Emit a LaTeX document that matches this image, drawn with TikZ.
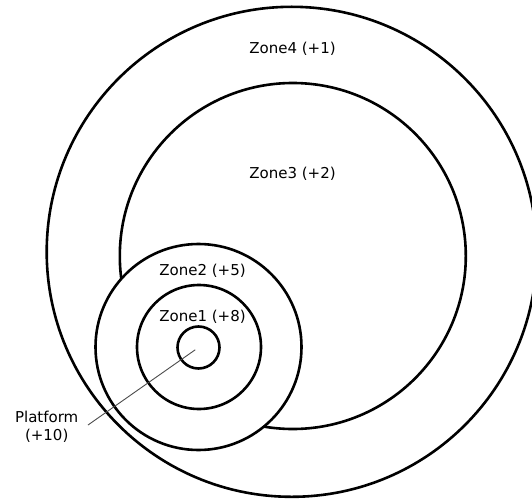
\documentclass[tikz,border=0pt]{standalone}
\usepackage{fontspec}
\setmainfont{DejaVu Sans}
\begin{document}
\begin{tikzpicture}[x=1pt,y=-1pt,
  ring/.style={circle,draw=black,line width=2.6pt,inner sep=0pt,outer sep=0pt},
  lbl/.style={font=\fontsize{15}{17}\selectfont,inner sep=0pt,align=center},
  leader/.style={draw=black!70,line width=0.9pt}]
  \useasboundingbox (0,0) rectangle (532,500);
  \clip (0,0) rectangle (532,500);
  % zones, drawn from the outside in
  \node[ring,minimum size=490pt] (z4) at (291.7,251.8) {};
  \node[ring,minimum size=346pt] (z3) at (292.8,256) {};
  \node[ring,fill=white,minimum size=206pt] (z2) at (198.5,347) {};
  \node[ring,minimum size=124pt] (z1) at (199,347) {};
  \node[ring,minimum size=42pt] (plat) at (198.5,347.5) {};
  % zone labels
  \node[lbl] (t4) at (292.5,49) {Zone4 (+1)};
  \node[lbl] (t3) at (292.5,173.5) {Zone3 (+2)};
  \node[lbl] (t2) at (202.5,270.5) {Zone2 (+5)};
  \node[lbl] (t1) at (202.5,317) {Zone1 (+8)};
  \node[lbl] (tp) at (46.7,427) {Platform\\[1pt](+10)};
  % leader from the platform to its label
  \coordinate (tail) at (88,425);
  \draw[leader,shorten <=4pt] (plat.center) -- (tail);
\end{tikzpicture}
\end{document}
